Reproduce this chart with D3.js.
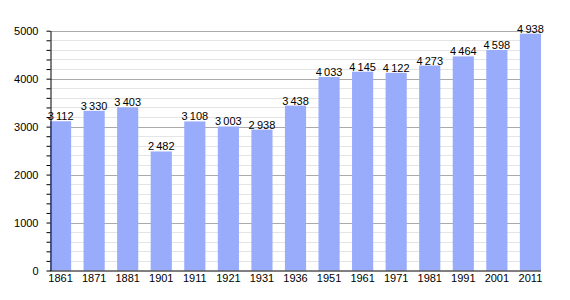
<!DOCTYPE html>
<html>
<head>
<meta charset="utf-8">
<script src="https://cdn.jsdelivr.net/npm/d3@7"></script>
<style>
  body { margin: 0; background: #fff; }
  text { font-family: "Liberation Sans", Arial, sans-serif; }
</style>
</head>
<body>
<div id="chart"></div>
<script>
// census years and population
const years = ['1861', '1871', '1881', '1901', '1911', '1921', '1931', '1936',
  '1951', '1961', '1971', '1981', '1991', '2001', '2011'];
const population = [3112, 3330, 3403, 2482, 3108, 3003, 2938, 3438,
  4033, 4145, 4122, 4273, 4464, 4598, 4938];
const yTicks = [0, 1000, 2000, 3000, 4000, 5000];

const width = 570, height = 300;
const plotLeft = 50, plotRight = 541, plotTop = 30.7, plotBottom = 270.5;

const svg = d3.select('#chart').append('svg')
  .attr('width', width)
  .attr('height', height);

const x = d3.scaleBand()
  .domain(years)
  .range([plotLeft, plotRight])
  .paddingInner(0.37)
  .paddingOuter(0)
  .align(0);

const y = d3.scaleLinear().domain([0, 5000]).range([plotBottom, plotTop]);

// minor grid every 200
const minor = d3.range(200, 5001, 200).filter(v => v % 1000 !== 0);
svg.append('g')
  .selectAll('line')
  .data(minor)
  .enter().append('line')
  .attr('x1', plotLeft).attr('x2', plotRight)
  .attr('y1', d => Math.round(y(d)) + 0.5)
  .attr('y2', d => Math.round(y(d)) + 0.5)
  .style('stroke', '#e4e4e4');

// major grid
svg.append('g')
  .selectAll('line')
  .data(yTicks.slice(1))
  .enter().append('line')
  .attr('x1', plotLeft).attr('x2', plotRight)
  .attr('y1', d => Math.round(y(d)) + 0.5)
  .attr('y2', d => Math.round(y(d)) + 0.5)
  .style('stroke', '#aaaaaa');

// bars
svg.append('g')
  .selectAll('rect')
  .data(population)
  .enter().append('rect')
  .attr('x', (d, i) => x(years[i]))
  .attr('y', d => y(d))
  .attr('width', x.bandwidth())
  .attr('height', d => plotBottom - y(d))
  .style('fill', '#99abfb');

// value labels, thin space as separator
const fmt = d3.formatLocale({ decimal: ',', thousands: '\u2009', grouping: [3], currency: ['', ''] }).format(',d');
svg.append('g')
  .selectAll('text')
  .data(population)
  .enter().append('text')
  .attr('x', (d, i) => x(years[i]) + x.bandwidth() / 2)
  .attr('y', d => y(d) - 1)
  .attr('text-anchor', 'middle')
  .style('font-size', '11px')
  .style('fill', '#000')
  .text(d => fmt(d));

// y axis
const yAxis = svg.append('g')
  .attr('transform', 'translate(' + (plotLeft + 0.5) + ',0)')
  .call(d3.axisLeft(y).tickValues(yTicks).tickSize(0).tickPadding(12).tickFormat(d3.format('d')));
yAxis.select('.domain').style('stroke', '#000');
yAxis.selectAll('text').style('font-size', '11px').style('font-family', '"Liberation Sans", Arial, sans-serif');

svg.append('g')
  .attr('transform', 'translate(' + (plotLeft + 0.5) + ',0)')
  .call(d3.axisLeft(y).tickValues(d3.range(0, 5001, 200)).tickSize(4).tickFormat(''))
  .call(g => g.select('.domain').remove());

// x axis
const xAxis = svg.append('g')
  .attr('transform', 'translate(0,' + plotBottom + ')')
  .call(d3.axisBottom(x).tickSize(0).tickPadding(4).tickSizeOuter(0));
xAxis.select('.domain').style('stroke', '#000').attr('d', 'M' + plotLeft + ',0.5H' + plotRight);
xAxis.selectAll('text').style('font-size', '11px').style('font-family', '"Liberation Sans", Arial, sans-serif');
</script>
</body>
</html>
